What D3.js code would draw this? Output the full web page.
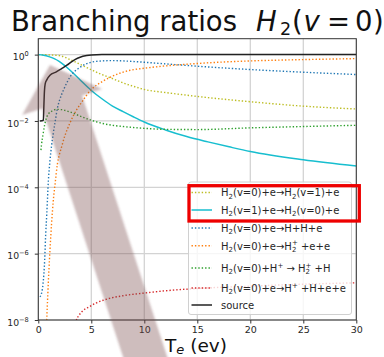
<!DOCTYPE html>
<html>
<head>
<meta charset="utf-8">
<script src="https://cdn.jsdelivr.net/npm/d3@7"></script>
<style>
  html, body { margin: 0; padding: 0; background: #fff; }
  svg { display: block; font-family: "DejaVu Sans", sans-serif; }
  text { white-space: pre; }
</style>
</head>
<body>
<svg id="chart" width="384" height="357"></svg>
<script>
// Electron temperature grids (eV) and branching ratios for each channel
const teVib01 = [0, 1, 2, 3, 4, 5, 6, 7, 8, 9, 10, 12, 15, 20, 25, 30];
const brVib01 = [1.0, 0.98, 0.93, 0.71, 0.50, 0.35, 0.25, 0.19, 0.14, 0.11, 0.089, 0.072, 0.055, 0.038, 0.028, 0.023];

const teVib10 = [0, 0.5, 1, 1.5, 2, 2.5, 3, 4, 5, 6, 7, 8, 9, 10, 12, 14, 16, 18, 20, 25, 30];
const brVib10 = [1.0, 0.955, 0.871, 0.759, 0.617, 0.468, 0.339, 0.166, 0.0832, 0.0468, 0.0282, 0.0191, 0.0132,
                 0.00933, 0.00537, 0.00339, 0.00234, 0.00166, 0.00120, 0.000676, 0.000437];

const teDiss = [0.15, 0.3, 0.45, 0.6, 0.7, 0.8, 0.95, 1.1, 1.25, 1.4, 1.6, 1.8, 2.0, 2.4, 3, 4, 5, 6, 7, 8, 10, 12, 15, 20, 25, 30];
const brDiss = [5.0e-8, 6.3e-8, 1.26e-7, 6.3e-7, 4.0e-6, 1.58e-5, 1.58e-4, 6.3e-4, 1.78e-3, 3.98e-3, 0.010, 0.024,
                0.0417, 0.0891, 0.214, 0.427, 0.589, 0.646, 0.661, 0.646, 0.589, 0.525, 0.447, 0.355, 0.295, 0.251];

const teIon = [0.75, 0.8, 0.9, 1.0, 1.1, 1.25, 1.4, 1.6, 1.8, 2.0, 2.2, 2.5, 2.7, 3.0, 3.6, 4.0, 5, 6, 7, 8.7, 10, 12, 14, 17, 20, 25, 30];
const brIon = [3.0e-9, 1.0e-8, 6.3e-8, 3.16e-7, 1.26e-6, 7.9e-6, 3.5e-5, 1.41e-4, 5.0e-4, 1.0e-3, 1.66e-3, 3.55e-3,
               5.25e-3, 8.9e-3, 0.0214, 0.0331, 0.0891, 0.151, 0.224, 0.339, 0.389, 0.457, 0.513, 0.589, 0.646, 0.708, 0.759];

const teCx = [0.25, 0.3, 0.45, 0.6, 0.8, 1.0, 1.3, 1.7, 2.2, 3, 4, 5, 6, 7, 8, 10, 12, 15, 20, 25, 30];
const brCx = [1.32e-3, 1.91e-3, 3.98e-3, 7.59e-3, 0.0132, 0.0170, 0.0200, 0.0224, 0.0219, 0.0186, 0.0138, 0.0105,
              8.5e-3, 7.4e-3, 6.8e-3, 6.0e-3, 5.6e-3, 5.5e-3, 6.2e-3, 6.8e-3, 7.4e-3];

const teDissIon = [3.5, 3.6, 3.8, 4.2, 4.8, 5.5, 6.5, 8, 10, 12, 15, 20, 25, 30];
const brDissIon = [6.0e-9, 1.0e-8, 1.32e-8, 1.9e-8, 2.5e-8, 3.3e-8, 4.3e-8, 5.4e-8, 6.5e-8, 7.6e-8, 8.9e-8, 1.05e-7, 1.2e-7, 1.32e-7];

const teSource = [0.15, 0.48, 0.52, 0.58, 0.65, 0.8, 1.1, 1.7, 2.2, 2.7, 3.2, 3.7, 4.2, 5, 6, 8, 30];
const brSource = [0.01, 0.0105, 0.0251, 0.0794, 0.132, 0.174, 0.240, 0.302, 0.380, 0.479, 0.631, 0.776, 0.891, 0.977, 1, 1, 1];

// Axis ticks
const xTicks = [0, 5, 10, 15, 20, 25, 30];
const yTicks = [1, 1e-2, 1e-4, 1e-6, 1e-8];
const yTickExp = ["0", "\u22122", "\u22124", "\u22126", "\u22128"];

// Legend labels as rich-text segments: [text, kind]
const labVib01 = [["H","n"],["2","sub"],["(v=0)+e\u2192H","n"],["2","sub"],["(v=1)+e","n"]];
const labVib10 = [["H","n"],["2","sub"],["(v=1)+e\u2192H","n"],["2","sub"],["(v=0)+e","n"]];
const labDiss  = [["H","n"],["2","sub"],["(v=0)+e\u2192H+H+e","n"]];
const labIon   = [["H","n"],["2","sub"],["(v=0)+e\u2192H","n"],["2","sub"],["+","sups"],[" +e+e","n"]];
const labCx    = [["H","n"],["2","sub"],["(v=0)+H","n"],["+","sup"],[" \u2192 H","n"],["2","sub"],["+","sups"],[" +H","n"]];
const labDissIon = [["H","n"],["2","sub"],["(v=0)+e\u2192H","n"],["+","sup"],[" +H+e+e","n"]];
const labSource = [["source","n"]];

const series = [
  { te: teVib01,   br: brVib01,   color: "#bcbd22", dotted: true,  label: labVib01 },
  { te: teVib10,   br: brVib10,   color: "#17becf", dotted: false, label: labVib10 },
  { te: teDiss,    br: brDiss,    color: "#1f77b4", dotted: true,  label: labDiss },
  { te: teIon,     br: brIon,     color: "#ff7f0e", dotted: true,  label: labIon },
  { te: teCx,      br: brCx,      color: "#2ca02c", dotted: true,  label: labCx },
  { te: teDissIon, br: brDissIon, color: "#d62728", dotted: true,  label: labDissIon },
  { te: teSource,  br: brSource,  color: "#222222", dotted: false, label: labSource }
];

const svg = d3.select("#chart");
const plot = { left: 38.3, right: 356.3, top: 38.7, bottom: 320 };

const x = d3.scaleLinear().domain([0, 30]).range([plot.left, plot.right]);
const y = d3.scaleLog().domain([1e-8, 3.02]).range([plot.bottom, plot.top]);

const defs = svg.append("defs");
defs.append("clipPath").attr("id", "plotClip")
  .append("rect")
  .attr("x", plot.left).attr("y", plot.top)
  .attr("width", plot.right - plot.left).attr("height", plot.bottom - plot.top);

// grid
const grid = svg.append("g").attr("stroke", "#d3d3d3").attr("stroke-width", 1.3);
grid.selectAll("line.gx").data(xTicks).join("line")
  .attr("x1", d => x(d)).attr("x2", d => x(d))
  .attr("y1", plot.top).attr("y2", plot.bottom);
grid.selectAll("line.gy").data(yTicks).join("line")
  .attr("x1", plot.left).attr("x2", plot.right)
  .attr("y1", d => y(d)).attr("y2", d => y(d));

// curves
const line = d3.line()
  .x(d => x(d[0]))
  .y(d => y(d[1]))
  .curve(d3.curveMonotoneX);

const curves = svg.append("g").attr("clip-path", "url(#plotClip)");
series.forEach(s => {
  const pts = s.te.map((t, i) => [t, s.br[i]]);
  curves.append("path")
    .attr("d", line(pts))
    .attr("fill", "none")
    .attr("stroke", s.color)
    .attr("stroke-width", s.dotted ? 1.4 : 1.5)
    .attr("stroke-dasharray", s.dotted ? "1.4,2.0" : null);
});

// frame
svg.append("rect")
  .attr("x", plot.left).attr("y", plot.top)
  .attr("width", plot.right - plot.left).attr("height", plot.bottom - plot.top)
  .attr("fill", "none").attr("stroke", "#333").attr("stroke-width", 1);

// x axis
const xAxis = svg.append("g")
  .attr("transform", `translate(0,${plot.bottom})`)
  .call(d3.axisBottom(x).tickValues(xTicks).tickSize(3.5).tickPadding(3).tickFormat(d3.format("d")));
xAxis.select(".domain").remove();
xAxis.selectAll("line").attr("stroke", "#333");
xAxis.selectAll("text").attr("font-size", 9.5).attr("fill", "#262626")
  .attr("font-family", "DejaVu Sans");

// y axis with power-of-ten labels
const yAxis = svg.append("g")
  .attr("transform", `translate(${plot.left},0)`)
  .call(d3.axisLeft(y).tickValues(yTicks).tickSize(3.5).tickFormat(() => ""));
yAxis.select(".domain").remove();
yAxis.selectAll("line").attr("stroke", "#333");
yAxis.selectAll(".tick").each(function(d, i) {
  const t = d3.select(this).select("text")
    .attr("x", -9.5).attr("dy", null).attr("y", 5.2)
    .attr("text-anchor", "end").attr("font-size", 9.3).attr("fill", "#262626")
    .attr("font-family", "DejaVu Sans");
  t.text(null);
  t.append("tspan").text("10");
  t.append("tspan").text(yTickExp[i]).attr("font-size", 6.6).attr("dy", -4);
});

// rich text helper (subscripts / superscripts)
function rich(sel, segs, size) {
  const t = sel.append("text").attr("font-size", size).attr("fill", "#262626");
  let shift = 0;
  segs.forEach(([s, k]) => {
    const target = k === "sub" ? size * 0.25 : (k === "sup" || k === "sups") ? -size * 0.42 : 0;
    const ts = t.append("tspan").text(s).attr("dy", target - shift);
    shift = target;
    if (k !== "n") ts.attr("font-size", size * 0.7);
    if (k === "sups") ts.attr("dx", -size * 0.7 * 0.636);
  });
  return t;
}

// title
const title = svg.append("text").attr("y", 30.7).attr("font-size", 27.5).attr("fill", "#111");
title.append("tspan").attr("x", 11).text("Branching ratios");
title.append("tspan").attr("x", 256).attr("font-style", "italic").text("H");
title.append("tspan").attr("x", 280).attr("dy", 4.3).attr("font-size", 17.5).text("2");
title.append("tspan").attr("x", 292).attr("dy", -4.3).text("(");
title.append("tspan").attr("x", 303.5).attr("font-style", "italic").text("v");
title.append("tspan").attr("x", 327).text("=");
title.append("tspan").attr("x", 355).text("0");
title.append("tspan").attr("x", 373).text(")");

// x label
const xl = svg.append("text").attr("x", 165).attr("y", 352).attr("font-size", 18.5).attr("fill", "#111");
xl.append("tspan").text("T");
xl.append("tspan").attr("font-size", 13).attr("font-style", "italic").attr("dy", 1.5).text("e");
xl.append("tspan").attr("dy", -1.5).text(" (ev)");

// legend
const legend = svg.append("g");
legend.append("rect")
  .attr("x", 188.5).attr("y", 182).attr("width", 163).attr("height", 132.5)
  .attr("rx", 2.5)
  .attr("fill", "#fff").attr("fill-opacity", 0.8)
  .attr("stroke", "#d0d0d0").attr("stroke-width", 1);

const rowY = [192.5, 210, 228, 245.8, 268, 288, 305];
series.forEach((s, i) => {
  const g = legend.append("g").attr("transform", `translate(0,${rowY[i]})`);
  g.append("line")
    .attr("x1", 191.5).attr("x2", 212).attr("y1", 0).attr("y2", 0)
    .attr("stroke", s.color)
    .attr("stroke-width", s.dotted ? 1.4 : 1.5)
    .attr("stroke-dasharray", s.dotted ? "1.4,2.0" : null);
  rich(g, s.label, 10).attr("x", 221).attr("y", 3.7);
});

// highlight box around the two vibrational channels
svg.append("rect")
  .attr("x", 189).attr("y", 185.7).attr("width", 170.3).attr("height", 35.3)
  .attr("fill", "none").attr("stroke", "#ee0000").attr("stroke-width", 3.3);

// large translucent pointer arrow
const tip = [50, 65];
const dir = [0.31, 0.951];          // pointing away from the tip, along the shaft
const nrm = [dir[1], -dir[0]];
const headLen = 39, headHalf = 42, shaftHalf = 21, shaftLen = 300;
const base = [tip[0] + dir[0] * headLen, tip[1] + dir[1] * headLen];
const end = [base[0] + dir[0] * shaftLen, base[1] + dir[1] * shaftLen];
const off = (p, k) => [p[0] + nrm[0] * k, p[1] + nrm[1] * k];
const arrowPts = [
  tip, off(base, headHalf), off(base, shaftHalf), off(end, shaftHalf),
  off(end, -shaftHalf), off(base, -shaftHalf), off(base, -headHalf)
];
defs.append("filter").attr("id", "soft")
  .append("feGaussianBlur").attr("stdDeviation", 1.2);
svg.append("polygon")
  .attr("points", arrowPts.map(p => p.join(",")).join(" "))
  .attr("fill", "rgb(120,70,75)").attr("fill-opacity", 0.36)
  .attr("filter", "url(#soft)");
</script>
</body>
</html>
